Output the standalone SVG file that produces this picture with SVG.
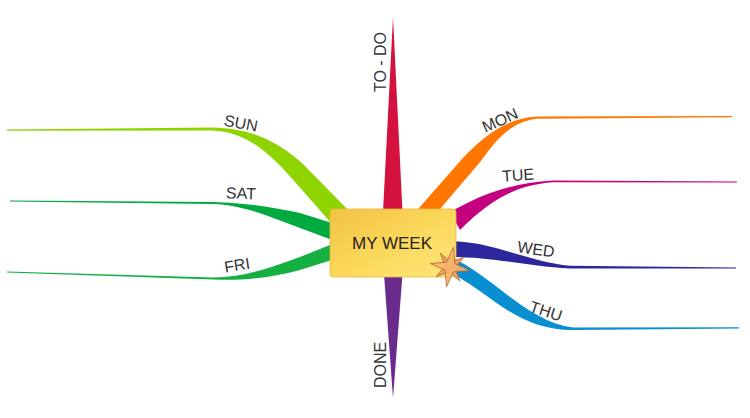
<svg xmlns="http://www.w3.org/2000/svg" width="750" height="418" viewBox="0 0 750 418">
<style>
.lbl{font-family:"Liberation Sans",Arial,sans-serif;font-size:16px;fill:#333;text-anchor:middle}
.ctr{font-family:"Liberation Sans",Arial,sans-serif;font-size:17px;fill:#222;text-anchor:middle}
.star{stroke:#b0652a;stroke-width:0.8;stroke-linejoin:round}
</style>
<defs>
<linearGradient id="boxg" x1="0" y1="0" x2="1" y2="1">
<stop offset="0" stop-color="#f3c244"/>
<stop offset="0.55" stop-color="#fbd95c"/>
<stop offset="1" stop-color="#fde67e"/>
</linearGradient>
</defs>
<rect width="750" height="418" fill="#fff"/>
<g id="connectors">
<path id="br-todo" fill="#d3123f" d="M393,17 L402.5,212 L383,212 Z"/>
<path id="br-done" fill="#6a2a8e" d="M384,274 L402.5,274 L393,398 Z"/>
<path id="br-sun" fill="#8fd400" d="M7,129.5 L212,127.5 C252,128.5 278,141 304,165 L352,214 L332,224 L295,182 C268,151 245,131.5 212,130.5 L7,130.8 Z"/>
<path id="br-sat" fill="#00aa3f" d="M10,200.5 L212,202 C250,203 275,208 300,213 L335,224 L335,241 L300,228 C270,217 245,205 212,204 L10,201.6 Z"/>
<path id="br-fri" fill="#14b042" d="M7,271.5 L213,277.5 C245,277 270,268 300,257 L335,243 L335,259 L300,270 C270,278 245,280.5 213,279.6 L7,272.6 Z"/>
<path id="br-mon" fill="#ff7700" d="M412,216 L462,159 C482,138 505,118 537,116.4 L732,116 L732,117.2 L537,118.7 C512,121 496,140 481,161 L434,216 Z"/>
<path id="br-tue" fill="#c5007f" d="M450,212 C480,195 510,183 553,180.5 L737,181.4 L737,182.6 L553,182.2 C515,185 490,200 460,230 Z"/>
<path id="br-wed" fill="#2c279d" d="M450,241 C495,242 525,261 570,265.8 L736,267.4 L736,268.6 L570,268.6 C525,266 495,257 450,257 Z"/>
<path id="br-thu" fill="#0a8ed2" d="M450,258 C485,268 525,322 573,327.4 L739,327.3 L739,328.6 L573,330 C520,330 495,298 455,275 Z"/>
</g>
<g id="node-center">
<rect x="330" y="209" width="126" height="68" rx="3" fill="url(#boxg)" stroke="#eab93c" stroke-width="0.8"/>
<text class="ctr" x="392" y="249">MY WEEK</text>
<g id="star-icon">
<path class="star" fill="#f0a060" d="M463.9,257.2 L454.9,267.9 L459.8,280.9 L449.1,271.9 L436.1,276.8 L445.1,266.1 L440.3,253.1 L450.9,262.1 Z"/>
<path class="star" fill="#f7b26e" fill-opacity="0.9" d="M453.5,247.3 L454.9,263.6 L469.7,270.5 L453.4,271.9 L446.5,286.7 L445.1,270.4 L430.3,263.5 L446.6,262.1 Z"/>
</g>
</g>
<g id="node-todo"><text class="lbl" transform="translate(380,62) rotate(-90)" y="5.7">TO - DO</text></g>
<g id="node-done"><text class="lbl" transform="translate(380,365) rotate(-90)" y="5.7">DONE</text></g>
<g id="node-sun"><text class="lbl" transform="translate(241,123) rotate(11)" y="5.7">SUN</text></g>
<g id="node-sat"><text class="lbl" transform="translate(241,193) rotate(2)" y="5.7">SAT</text></g>
<g id="node-fri"><text class="lbl" transform="translate(237,265) rotate(-9)" y="5.7">FRI</text></g>
<g id="node-mon"><text class="lbl" transform="translate(500,120) rotate(-24)" y="5.7">MON</text></g>
<g id="node-tue"><text class="lbl" transform="translate(518,175) rotate(-4)" y="5.7">TUE</text></g>
<g id="node-wed"><text class="lbl" transform="translate(536,249) rotate(8)" y="5.7">WED</text></g>
<g id="node-thu"><text class="lbl" transform="translate(546,311) rotate(18)" y="5.7">THU</text></g>
</svg>
